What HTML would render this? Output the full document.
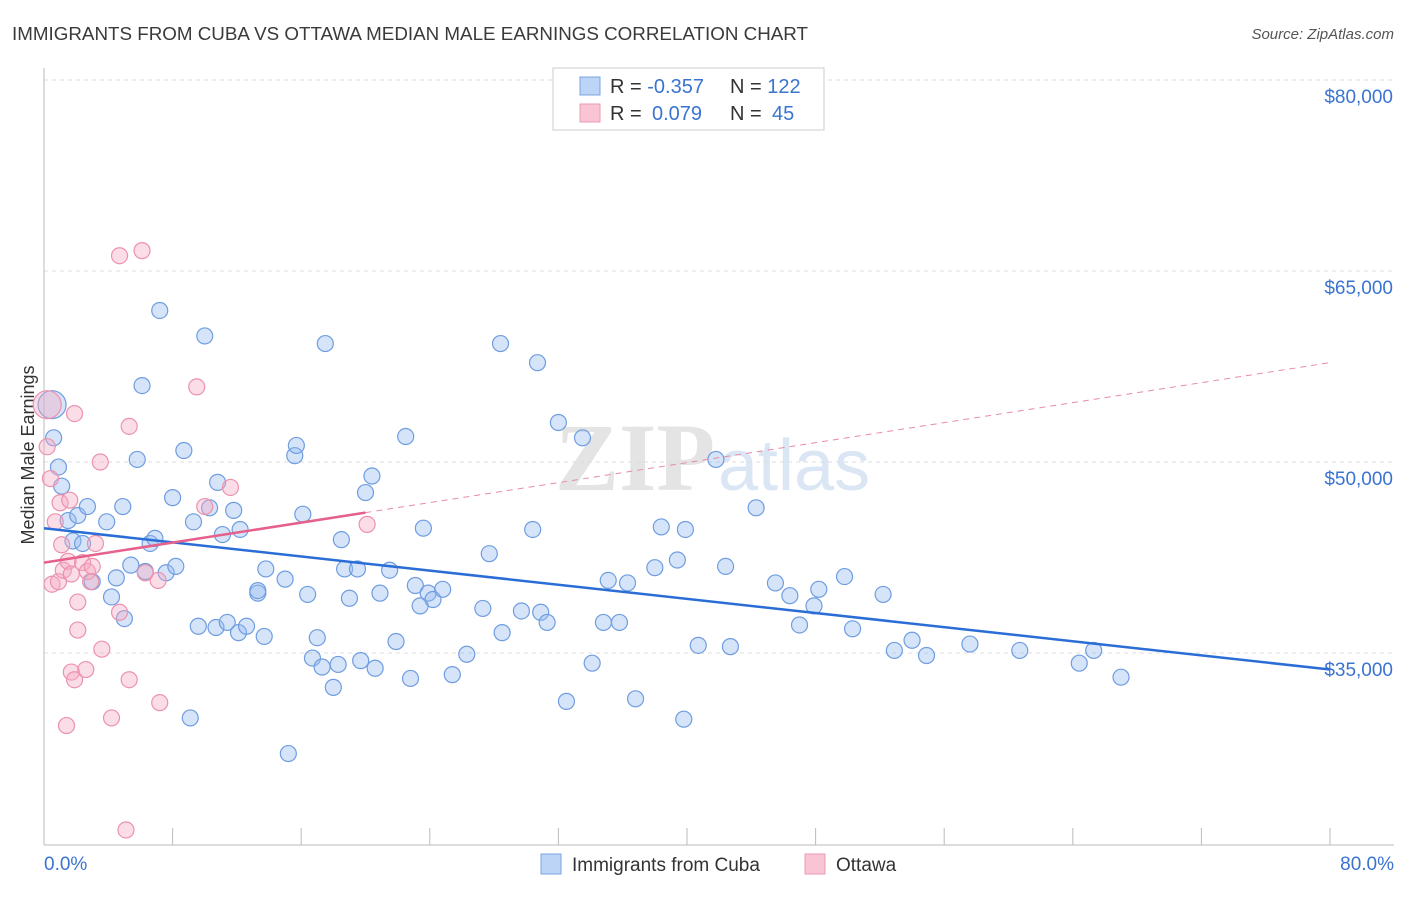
<!DOCTYPE html>
<html><head><meta charset="utf-8"><style>
body{margin:0;background:#fff;font-family:"Liberation Sans",sans-serif}
</style></head><body>
<svg width="1406" height="892" xmlns="http://www.w3.org/2000/svg" id="svg">
<text x="12" y="40" font-size="18" fill="#3a3a3a" textLength="796" lengthAdjust="spacingAndGlyphs">IMMIGRANTS FROM CUBA VS OTTAWA MEDIAN MALE EARNINGS CORRELATION CHART</text>
<text x="1394" y="39" font-size="15" fill="#555" font-style="italic" text-anchor="end">Source: ZipAtlas.com</text>
<text x="555" y="490" font-size="96" fill="#e4e4e4" font-family="Liberation Serif" font-weight="bold">ZIP</text>
<text x="718" y="490" font-size="72" fill="#dbe6f5">atlas</text>
<text transform="translate(34,455) rotate(-90)" font-size="18" fill="#333" text-anchor="middle">Median Male Earnings</text>
<g id="grid"></g><g id="marks"></g>
<g>
<rect x="553" y="68" width="271" height="62" fill="#fff" stroke="#ccc"/>
<rect x="580" y="77" width="20" height="18" fill="#bcd4f5" stroke="#7aa5e0"/>
<rect x="580" y="104" width="20" height="18" fill="#f9c5d5" stroke="#ec9ab3"/>
<text x="610" y="93" font-size="20" fill="#333">R = <tspan fill="#3a74d0">-0.357</tspan><tspan x="730">N = </tspan><tspan fill="#3a74d0">122</tspan></text>
<text x="610" y="120" font-size="20" fill="#333">R = <tspan x="652" fill="#3a74d0">0.079</tspan><tspan x="730">N = </tspan><tspan x="772" fill="#3a74d0">45</tspan></text>
</g>
<g>
<rect x="541" y="854" width="20" height="20" fill="#bcd4f5" stroke="#7aa5e0"/>
<text x="572" y="871" font-size="19" fill="#333">Immigrants from Cuba</text>
<rect x="805" y="854" width="20" height="20" fill="#f9c5d5" stroke="#ec9ab3"/>
<text x="836" y="871" font-size="19" fill="#333">Ottawa</text>
</g>
<text x="44" y="870" font-size="19" fill="#3a74d0">0.0%</text>
<text x="1394" y="870" font-size="19" fill="#3a74d0" text-anchor="end">80.0%</text>
</svg>
<script>
const yTicks=[80000,65000,50000,35000];
const yTickLabels=["$80,000","$65,000","$50,000","$35,000"];
const cubaX=[0.5,0.6,0.9,1.1,1.5,2.1,1.8,2.4,2.7,3.0,3.9,4.2,4.5,4.9,5.0,5.4,6.1,6.3,5.8,6.6,6.9,7.2,7.6,8.0,8.2,8.7,9.1,9.3,9.6,10.0,10.3,10.7,10.8,11.1,11.4,11.8,12.1,12.2,12.6,13.3,13.3,13.7,13.8,15.0,15.2,15.6,15.7,16.1,16.4,16.7,17.0,17.3,17.5,18.0,18.3,18.5,18.7,19.0,19.5,19.7,20.0,20.4,20.6,20.9,21.5,21.9,22.5,22.8,23.1,23.4,23.6,23.9,24.2,24.8,25.4,26.3,27.3,27.7,28.4,28.5,29.7,30.4,30.7,30.9,31.3,32.0,32.5,33.5,34.1,34.8,35.1,35.8,36.3,36.8,38.0,38.4,39.4,39.8,39.9,40.7,41.8,42.4,42.7,44.3,45.5,46.4,47.0,47.9,48.2,49.8,50.3,52.2,52.9,54.0,54.9,57.6,60.7,64.4,65.3,67.0];
const cubaY=[54.5,51.9,49.6,48.1,45.4,45.8,43.8,43.6,46.5,40.6,45.3,39.4,40.9,46.5,37.7,41.9,56.0,41.4,50.2,43.6,44.0,61.9,41.3,47.2,41.8,50.9,29.9,45.3,37.1,59.9,46.4,37.0,48.4,44.3,37.4,46.2,36.6,44.7,37.1,39.7,39.9,36.3,41.6,40.8,27.1,50.5,51.3,45.9,39.6,34.6,36.2,33.9,59.3,32.3,34.1,43.9,41.6,39.3,41.6,34.4,47.6,48.9,33.8,39.7,41.5,35.9,52.0,33.0,40.3,38.7,44.8,39.7,39.2,40.0,33.3,34.9,38.5,42.8,59.3,36.6,38.3,44.7,57.8,38.2,37.4,53.1,31.2,51.9,34.2,37.4,40.7,37.4,40.5,31.4,41.7,44.9,42.3,29.8,44.7,35.6,50.2,41.8,35.5,46.4,40.5,39.5,37.2,38.7,40.0,41.0,36.9,39.6,35.2,36.0,34.8,35.7,35.2,34.2,35.2,33.1];
const ottX=[0.2,0.2,0.4,0.5,0.7,0.9,1.0,1.1,1.2,1.5,1.6,1.9,1.7,1.4,1.7,1.9,2.1,2.1,2.4,2.6,2.7,3.0,2.9,3.2,3.5,3.6,4.2,4.7,4.7,5.1,5.3,5.3,6.1,6.3,7.1,7.2,9.5,10.0,11.6,20.1];
const ottY=[54.5,51.2,48.7,40.4,45.3,40.6,46.8,43.5,41.5,42.2,47.0,53.8,41.2,29.3,33.5,32.9,36.8,39.0,42.1,33.7,41.4,41.8,40.6,43.6,50.0,35.3,29.9,66.2,38.2,21.1,32.9,52.8,66.6,41.3,40.7,31.1,55.9,46.5,48.0,45.1];
const cubaTrend=[44.8,33.7];
const ottTrend=[42.1,57.8];
const NS="http://www.w3.org/2000/svg";
const sx=p=>44+p/80*1286;
const sy=v=>80+(80-v)*12.733;
const svg=document.getElementById('svg'),grid=document.getElementById('grid'),marks=document.getElementById('marks');
function mk(tag,a,parent){const e=document.createElementNS(NS,tag);for(const k in a)e.setAttribute(k,a[k]);parent.appendChild(e);return e;}
yTicks.forEach((t,i)=>{const y=sy(t/1000);
 const l=mk('line',{x1:44,x2:1394,y1:y,y2:y,stroke:'#ddd','stroke-dasharray':'4,4'},grid);
 
 
 const tx=mk('text',{x:1393,y:y+23,'font-size':19,fill:'#3a74d0','text-anchor':'end'},grid);
 tx.textContent=yTickLabels[i];
 
 
});
const ax=mk('line',{x1:44,x2:1394,y1:845,y2:845,stroke:'#bbb'},grid);


const ay=mk('line',{x1:44,x2:44,y1:68,y2:845,stroke:'#bbb'},grid);


for(let i=0;i<=10;i++){const x=sx(i*8);
 const t=mk('line',{x1:x,x2:x,y1:828,y2:845,stroke:'#bbb'},grid);
 
 }
cubaX.forEach((x,i)=>{const c=mk('circle',{cx:sx(x),cy:sy(cubaY[i]),r:i==0?14:8,fill:'rgba(150,188,240,0.4)',stroke:'#6f9de0','stroke-width':1.2},marks);
 
 });
ottX.forEach((x,i)=>{const c=mk('circle',{cx:sx(x),cy:sy(ottY[i]),r:i==0?14:8,fill:'rgba(246,170,195,0.4)',stroke:'#ec92ae','stroke-width':1.2},marks);
 
 });
const bl=mk('line',{x1:sx(0),y1:sy(cubaTrend[0]),x2:sx(80),y2:sy(cubaTrend[1]),stroke:'#2a6dd6','stroke-width':2.5},marks);


const ov=p=>ottTrend[0]+(ottTrend[1]-ottTrend[0])*p/80;
const pl=mk('line',{x1:sx(0),y1:sy(ov(0)),x2:sx(20),y2:sy(ov(20)),stroke:'#e5608a','stroke-width':2.5},marks);


const pd=mk('line',{x1:sx(20),y1:sy(ov(20)),x2:sx(80),y2:sy(ov(80)),stroke:'#e88aa8','stroke-width':1,'stroke-dasharray':'6,5'},marks);


</script>
</body></html>
